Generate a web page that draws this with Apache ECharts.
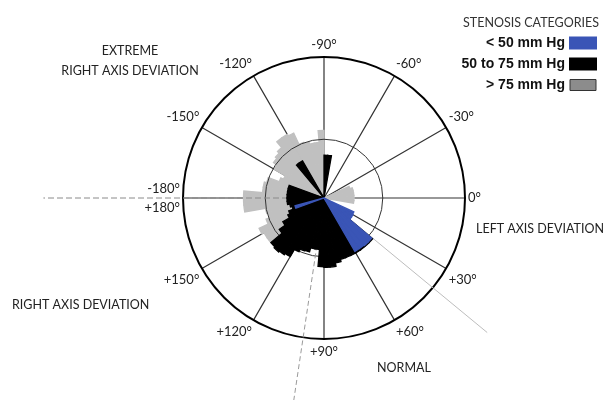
<!DOCTYPE html>
<html>
<head>
<meta charset="utf-8">
<script src="https://cdn.jsdelivr.net/npm/echarts@6/dist/echarts.min.js"></script>
<style>
  html, body { margin: 0; padding: 0; background: #fff; }
  #chart { width: 607px; height: 400px; }
</style>
</head>
<body>
<div id="chart"></div>
<script>
// QRS axis histogram, 5-degree bins (start angle of each bin), 0 = right, +90 = down
const binStarts = [
  -180, -175, -170, -165, -160, -155, -150, -145, -140, -135, -130, -125,
  -120, -115, -110, -105, -100, -95, -90, -85, -80, -75, -70, -65,
  -60, -55, -50, -45, -40, -35, -30, -25, -20, -15, -10, -5,
  0, 5, 10, 15, 20, 25, 30, 35, 40, 45, 50, 55,
  60, 65, 70, 75, 80, 85, 90, 95, 100, 105, 110, 115,
  120, 125, 130, 135, 140, 145, 150, 155, 160, 165, 170, 175
];

// share of patients per bin (%), by gradient category
const gradientLow = [
  0, 0, 0, 0, 0, 0, 0, 0, 0, 0, 0, 0,
  0, 0, 0, 0, 0, 0, 0, 0, 0, 0, 0, 0,
  0, 0, 0, 0, 0, 0, 0, 0, 0, 0, 0, 0,
  0, 0, 0, 0, 0, 5.6, 5.7, 5.7, 10.6, 10.6, 10.5, 10.5,
  0, 0, 0, 0, 0, 0, 0, 0, 0, 0, 0, 0,
  0, 0, 0, 0, 0, 0, 0, 0, 5.1, 0, 0, 0
];
const gradientMid = [
  6.3, 6.3, 6.3, 6.3, 0, 0, 0, 0, 0, 0, 7.3, 7.3,
  0, 0, 0, 0, 0, 0, 7.3, 7.3, 0, 0, 0, 0,
  0, 0, 0, 0, 0, 0, 0, 0, 0, 0, 0, 0,
  0, 0, 0, 0, 0, 0, 0, 0, 10.8, 10.8, 10.8, 10.8,
  10.8, 10.8, 10.8, 11.2, 11.8, 11.8, 11.7, 8.8, 8.8, 9.5, 9.6, 10.1,
  11.5, 11.8, 12.0, 11.8, 9.3, 8.1, 6.8, 6.4, 5.6, 5.9, 6.3, 6.3
];
const gradientHigh = [
  13.7, 10.5, 10.5, 10.1, 8.1, 7.6, 9.8, 10.5, 10.8, 11.2, 12.5, 12.5,
  12.2, 10.1, 9.8, 9.5, 9.5, 11.5, 0, 0, 0, 0, 0, 0,
  0, 0, 0, 0, 0, 0, 0, 4.7, 5.1, 5.1, 5.1, 5.1,
  5.1, 5.1, 0, 0, 0, 0, 0, 0, 0, 0, 0, 0,
  0, 0, 0, 0, 0, 0, 0, 0, 0, 0, 0, 0,
  0, 0, 0, 0, 11.8, 11.8, 12.2, 10.5, 9.8, 10.1, 13.7, 13.7
];

const seriesNames = ['< 50 mm Hg', '50 to 75 mm Hg', '> 75 mm Hg'];
const seriesColors = ['#3a55b6', '#000000', '#c0c0c0'];

// mean axis of each category: angle (deg) and length relative to the outer ring
const meanAngles = [39.5, 98.5, 180];
const meanReach = [1.5, 1.6, 1.99];

const RMAX = 24;      // outer ring value (%)
const RING = 10;      // inner reference ring value (%)
const CENTER = [324, 198];
const R = 141;
const REACH_MAX = 2;  // extent of the mean-axis layer, in outer-ring units

const labelFont = 'Lato';

const chart = echarts.init(document.getElementById('chart'), null, { renderer: 'canvas' });

function barSeries(idx, data, z) {
  return {
    type: 'bar',
    name: seriesNames[idx],
    coordinateSystem: 'polar',
    polarIndex: 0,
    barGap: '-100%',
    barCategoryGap: '0%',
    silent: true,
    z: z,
    data: data,
    itemStyle: { color: seriesColors[idx], borderColor: seriesColors[idx], borderWidth: 1.3, borderJoin: 'miter' }
  };
}

const meanLineStyles = [
  { color: '#bdbdbd', width: 1, type: 'solid' },
  { color: '#9a9a9a', width: 1, type: [5, 3] },
  { color: '#8a8a8a', width: 1, type: [6, 3] }
];

const hiddenRadius = (i, max) => ({
  polarIndex: i, type: 'value', min: 0, max: max, show: false,
  axisLine: { show: false }, axisTick: { show: false },
  axisLabel: { show: false }, splitLine: { show: false }
});

const option = {
  animation: false,
  backgroundColor: '#ffffff',
  title: {
    text: 'STENOSIS CATEGORIES',
    right: 3,
    top: 11,
    textStyle: { fontFamily: labelFont, fontSize: 12.5, fontWeight: 'normal', color: '#333' }
  },
  legend: {
    orient: 'vertical',
    align: 'right',
    right: 5,
    top: 31,
    itemWidth: 26,
    itemHeight: 11,
    itemGap: 7,
    icon: 'rect',
    selectedMode: false,
    textStyle: { fontFamily: 'Liberation Sans', fontWeight: 'bold', fontSize: 14, color: '#111' },
    data: [
      { name: seriesNames[0] },
      { name: seriesNames[1] },
      { name: seriesNames[2], itemStyle: { color: '#8c8c8c', borderColor: '#333', borderWidth: 1 } }
    ]
  },
  polar: [
    { center: CENTER, radius: R },
    { center: CENTER, radius: R },
    { center: CENTER, radius: R * RING / RMAX },
    { center: CENTER, radius: R * REACH_MAX }
  ],
  angleAxis: [
    {
      polarIndex: 0, type: 'category', data: binStarts,
      startAngle: 180, clockwise: true, boundaryGap: true,
      axisLine: { show: false }, axisTick: { show: false },
      axisLabel: { show: false }, splitLine: { show: false }
    },
    {
      polarIndex: 1, type: 'value', min: -180, max: 180, interval: 30,
      startAngle: 180, clockwise: true, z: 1,
      axisLine: { show: true, lineStyle: { color: '#000', width: 2 } },
      axisTick: { show: false },
      splitLine: { show: true, lineStyle: { color: '#333', width: 1.2 } },
      axisLabel: {
        margin: 3,
        fontFamily: labelFont,
        fontSize: 13,
        color: '#222',
        lineHeight: 19,
        formatter: function (v) {
          if (v === -180) return '-180°\n+180°';
          if (v === 180) return '';
          return (v > 0 ? '+' : '') + v + '°';
        }
      }
    },
    {
      polarIndex: 2, type: 'value', min: -180, max: 180,
      startAngle: 180, clockwise: true, z: 3,
      axisLine: { show: true, lineStyle: { color: '#333', width: 1 } },
      axisTick: { show: false }, axisLabel: { show: false }, splitLine: { show: false }
    },
    {
      polarIndex: 3, type: 'value', min: -180, max: 180,
      startAngle: 180, clockwise: true,
      axisLine: { show: false }, axisTick: { show: false },
      axisLabel: { show: false }, splitLine: { show: false }
    }
  ],
  radiusAxis: [
    hiddenRadius(0, RMAX),
    hiddenRadius(1, 1),
    hiddenRadius(2, 1),
    hiddenRadius(3, REACH_MAX)
  ],
  series: [
    barSeries(2, gradientHigh, 2),
    ...meanAngles.map((a, i) => ({
      type: 'line',
      coordinateSystem: 'polar',
      polarIndex: 3,
      clip: false,
      silent: true,
      symbol: 'none',
      z: 3,
      data: [[0, a], [meanReach[i], a]],
      lineStyle: meanLineStyles[i]
    })),
    barSeries(1, gradientMid, 4),
    barSeries(0, gradientLow, 5)
  ],
  graphic: [
    { type: 'text', x: 130, y: 51, style: {
        text: 'EXTREME', align: 'center', verticalAlign: 'middle',
        font: '12.5px ' + labelFont, fill: '#222' } },
    { type: 'text', x: 130, y: 71, style: {
        text: 'RIGHT AXIS DEVIATION', align: 'center', verticalAlign: 'middle',
        font: '12.5px ' + labelFont, fill: '#222' } },
    { type: 'text', x: 476, y: 229, style: {
        text: 'LEFT AXIS DEVIATION', verticalAlign: 'middle',
        font: '12.5px ' + labelFont, fill: '#222' } },
    { type: 'text', x: 12, y: 305, style: {
        text: 'RIGHT AXIS DEVIATION', verticalAlign: 'middle',
        font: '12.5px ' + labelFont, fill: '#222' } },
    { type: 'text', x: 377, y: 368, style: {
        text: 'NORMAL', verticalAlign: 'middle',
        font: '12.5px ' + labelFont, fill: '#222' } }
  ]
};

chart.setOption(option);
</script>
</body>
</html>
